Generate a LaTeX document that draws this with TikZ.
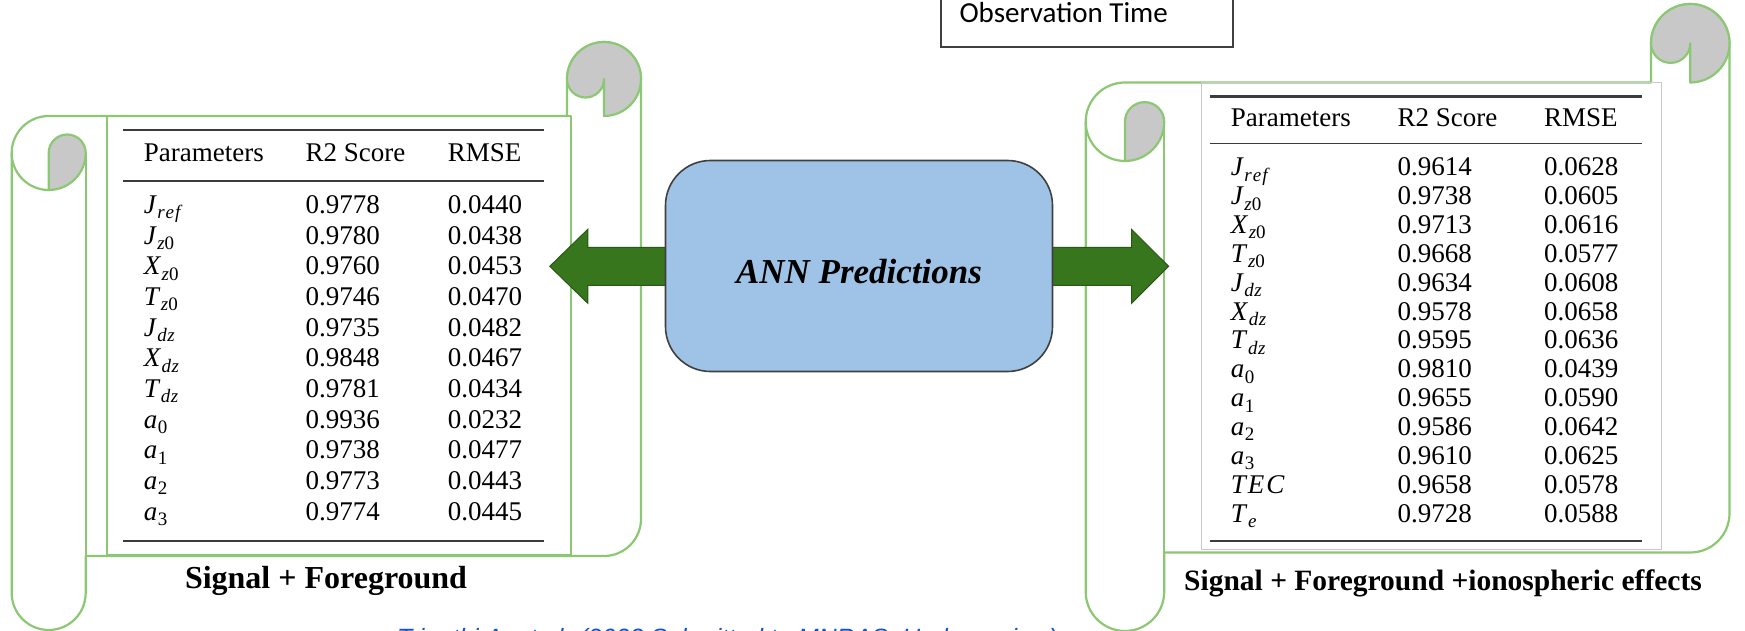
\documentclass[tikz,border=0pt]{standalone}
\usepackage{fontspec}
\setmainfont{Liberation Serif}
\newfontfamily\calibfont{Carlito}
\newfontfamily\arialfont{Liberation Sans}
\definecolor{scrollgreen}{RGB}{140,200,115}
\definecolor{curlgray}{RGB}{200,200,200}
\definecolor{annfill}{RGB}{159,195,230}
\definecolor{boxedge}{RGB}{64,64,64}
\definecolor{arrowgreen}{RGB}{56,118,29}
\definecolor{arrowedge}{RGB}{40,88,22}
\definecolor{rulegray}{RGB}{60,60,60}
\definecolor{citeblue}{RGB}{17,85,204}
\newcommand\pv[2]{\textit{#1}\kern0.5pt\raisebox{-0.2em}{\fontsize{19}{19}\selectfont #2}}
\newcommand\drawscroll[5]{%
  \pgfmathsetmacro\L{#1}\pgfmathsetmacro\R{#2}\pgfmathsetmacro\T{#3}\pgfmathsetmacro\B{#4}%
  \pgfmathsetmacro\ch{#5}\pgfmathsetmacro\chh{#5/2}\pgfmathsetmacro\chq{#5/4}%
  \draw[scrollline,fill=white] (\L,\T+\ch+\chh) -- (\L,\B-\chh)
     arc[start angle=180,end angle=0,radius=\chh] -- (\L+\ch,\B-\ch) -- (\R-\chh,\B-\ch)
     arc[start angle=90,end angle=0,radius=\chh] -- (\R,\T+\chh)
     arc[start angle=0,end angle=-180,radius=\chh] -- (\R-\ch,\T+\ch) -- (\L+\chh,\T+\ch)
     arc[start angle=-90,end angle=-180,radius=\chh] -- cycle;
  \draw[scrollline] (\L+\ch,\T+\ch+\chh) -- (\L+\ch,\B-\ch);
  \draw[scrollline] (\L,\T+\ch+\chh) arc[start angle=180,end angle=90,radius=\chh];
  \draw[scrollline,fill=curlgray] (\L+\chh,\T+\ch+\chh)
     arc[start angle=180,end angle=360,radius=\chq]
     arc[start angle=0,end angle=90,radius=\chh] -- cycle;
  \draw[scrollline,fill=curlgray] (\R-\ch,\T+\chh)
     arc[start angle=-180,end angle=90,radius=\chh] -- (\R-\chh,\T+\chh)
     arc[start angle=0,end angle=180,radius=\chq] -- cycle;
}
\tikzset{
  scrollline/.style={draw=scrollgreen,line width=2.2pt,line join=round},
  tabrule/.style={draw=rulegray,line width=2.2pt},
  cell/.style={font=\fontsize{27}{27}\selectfont,inner sep=0pt,anchor=base west},
  blockarrow/.style={fill=arrowgreen,draw=arrowedge,line width=1pt,line join=miter},
  annbox/.style={draw=boxedge,line width=1.6pt,fill=annfill,rounded corners=45pt,
     minimum width=387pt,minimum height=211pt,inner sep=0pt},
  obsbox/.style={draw=boxedge,line width=1.6pt,fill=white,minimum width=292pt,
     minimum height=70pt,inner sep=0pt,anchor=south west},
}
\begin{document}
\begin{tikzpicture}[x=1pt,y=-1pt]
\useasboundingbox (0,0) rectangle (1745,631);
\clip (0,0) rectangle (1745,631);
% ---------- left scroll ----------
\drawscroll{11.7}{641}{42}{630}{74}
\draw[scrollline] (107,116) rectangle (571,555);
\draw[tabrule] (123,130) -- (543.6,130);
\draw[tabrule,line width=1.8pt] (123,181) -- (543.6,181);
\draw[tabrule] (123,541) -- (543.6,541);
\node[cell] (LhP) at (143.6,162) {Parameters};
\node[cell] (LhR) at (305.5,162) {R2 Score};
\node[cell] (LhM) at (447.6,162) {RMSE};
\foreach \p/\r/\m [count=\i from 0] in {
  {\pv{J}{\textit{r\kern1pt e\kern1pt f}}}/0.9778/0.0440,
  {\pv{J}{\textit{z}0}}/0.9780/0.0438,
  {\pv{X}{\textit{z}0}}/0.9760/0.0453,
  {\pv{T}{\textit{z}0}}/0.9746/0.0470,
  {\pv{J}{\textit{d\kern0.5pt z}}}/0.9735/0.0482,
  {\pv{X}{\textit{d\kern0.5pt z}}}/0.9848/0.0467,
  {\pv{T}{\textit{d\kern0.5pt z}}}/0.9781/0.0434,
  {\pv{a}{0}}/0.9936/0.0232,
  {\pv{a}{1}}/0.9738/0.0477,
  {\pv{a}{2}}/0.9773/0.0443,
  {\pv{a}{3}}/0.9774/0.0445}{
  \node[cell] (Lp\i) at (143.6,{213.5+30.65*\i}) {\p};
  \node[cell] (Lr\i) at (305.5,{213.5+30.65*\i}) {\r};
  \node[cell] (Lm\i) at (447.6,{213.5+30.65*\i}) {\m};
}
\node[font=\bfseries\fontsize{32}{32}\selectfont,anchor=base,inner sep=0pt] (Llabel) at (326,588) {Signal + Foreground};
% ---------- right scroll ----------
\drawscroll{1085.7}{1729.5}{4}{631}{78.5}
\draw[draw={rgb,255:red,200;green,200;blue,200},line width=0.8pt] (1201,82.7) rectangle (1661.7,549);
\draw[tabrule] (1209.5,96.5) -- (1642.4,96.5);
\draw[tabrule,line width=1.8pt] (1209.5,143.6) -- (1642.4,143.6);
\draw[tabrule] (1209.5,541) -- (1642.4,541);
\node[cell] (RhP) at (1230.7,126.7) {Parameters};
\node[cell] (RhR) at (1397.5,126.7) {R2 Score};
\node[cell] (RhM) at (1544,126.7) {RMSE};
\foreach \p/\r/\m [count=\i from 0] in {
  {\pv{J}{\textit{r\kern1pt e\kern1pt f}}}/0.9614/0.0628,
  {\pv{J}{\textit{z}0}}/0.9738/0.0605,
  {\pv{X}{\textit{z}0}}/0.9713/0.0616,
  {\pv{T}{\textit{z}0}}/0.9668/0.0577,
  {\pv{J}{\textit{d\kern0.5pt z}}}/0.9634/0.0608,
  {\pv{X}{\textit{d\kern0.5pt z}}}/0.9578/0.0658,
  {\pv{T}{\textit{d\kern0.5pt z}}}/0.9595/0.0636,
  {\pv{a}{0}}/0.9810/0.0439,
  {\pv{a}{1}}/0.9655/0.0590,
  {\pv{a}{2}}/0.9586/0.0642,
  {\pv{a}{3}}/0.9610/0.0625,
  {\textit{T\kern2pt E\kern2pt C}}/0.9658/0.0578,
  {\pv{T}{\textit{e}}}/0.9728/0.0588}{
  \node[cell] (Rp\i) at (1230.7,{175.8+28.85*\i}) {\p};
  \node[cell] (Rr\i) at (1397.5,{175.8+28.85*\i}) {\r};
  \node[cell] (Rm\i) at (1544,{175.8+28.85*\i}) {\m};
}
\node[font=\bfseries\fontsize{29.5}{29.5}\selectfont,anchor=base,inner sep=0pt] (Rlabel) at (1443,590.5) {Signal + Foreground +ionospheric effects};
% ---------- arrows and ANN box ----------
\draw[blockarrow] (549.8,266.3) -- (587.8,229.3) -- (587.8,247.3) -- (680,247.3)
   -- (680,285.3) -- (587.8,285.3) -- (587.8,303.3) -- cycle;
\draw[blockarrow] (1040,247.3) -- (1131.5,247.3) -- (1131.5,229.3) -- (1168.6,266.3)
   -- (1131.5,303.3) -- (1131.5,285.3) -- (1040,285.3) -- cycle;
\node[annbox] (ann) at (859,266) {};
\node[font=\bfseries\itshape\fontsize{35}{35}\selectfont,anchor=base,inner sep=0pt] (anntext) at (859,283) {ANN Predictions};
% ---------- observation time ----------
\node[obsbox] (obs) at (940,47.7) {};
\node[font=\calibfont\fontsize{29}{29}\selectfont,anchor=base west,inner sep=0pt] (obstext) at (959.3,22.5) {Observation Time};
% ---------- citation (cut off at the bottom) ----------
\node[font=\arialfont\itshape\fontsize{25}{25}\selectfont,text=citeblue,anchor=base west,inner sep=0pt] (cite) at (397,646) {Tripathi A. et al. (2023 Submitted to MNRAS, Under review)};
\end{tikzpicture}
\end{document}
